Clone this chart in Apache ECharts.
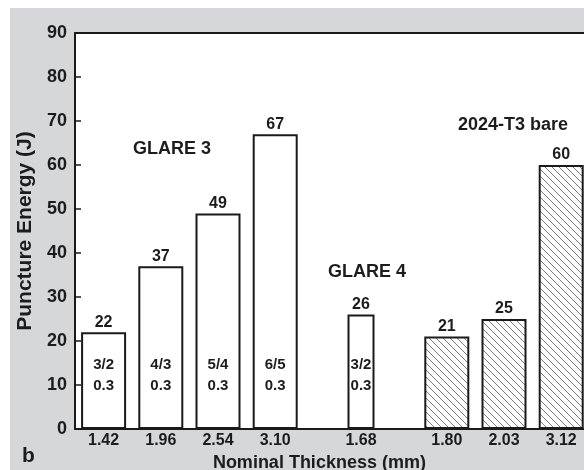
<!DOCTYPE html>
<html>
<head>
<meta charset="utf-8">
<script src="https://cdn.jsdelivr.net/npm/echarts@6/dist/echarts.min.js"></script>
<style>
  html, body { margin: 0; padding: 0; background: #fff; }
  #chart { width: 584px; height: 470px; }
</style>
</head>
<body>
<div id="chart"></div>
<script>
// Puncture energy of GLARE laminates vs. bare 2024-T3 sheet, by nominal thickness
const glare3Thickness = ['1.42', '1.96', '2.54', '3.10'];
const glare3Energy = [22, 37, 49, 67];
const glare3Layup = ['3/2', '4/3', '5/4', '6/5'];
const glare3AlLayer = ['0.3', '0.3', '0.3', '0.3'];

const glare4Thickness = ['1.68'];
const glare4Energy = [26];
const glare4Layup = ['3/2'];
const glare4AlLayer = ['0.3'];

const bareThickness = ['1.80', '2.03', '3.12'];
const bareEnergy = [21, 25, 60];

const yMin = 0, yMax = 90, yStep = 10;

// Half-width category cells: a blank cell separates bars, groups get an extra blank.
const cats = [''];
const slotG3 = [], slotG4 = [], slotBare = [];
glare3Thickness.forEach(c => { slotG3.push(cats.length); cats.push(c); cats.push(''); });
cats.push('');
glare4Thickness.forEach(c => { slotG4.push(cats.length); cats.push(c); cats.push(''); });
cats.push('');
bareThickness.forEach(c => { slotBare.push(cats.length); cats.push(c); cats.push(''); });

const empty = () => cats.map(() => '-');
const g3Data = empty(); slotG3.forEach((p, i) => g3Data[p] = glare3Energy[i]);
const g4Data = empty(); slotG4.forEach((p, i) => g4Data[p] = glare4Energy[i]);
const bareData = empty(); slotBare.forEach((p, i) => bareData[p] = bareEnergy[i]);

// Lay-up text shown inside each laminate bar
const layupText = {};
const layupData = empty();
slotG3.forEach((p, i) => { layupData[p] = glare3Energy[i]; layupText[p] = glare3Layup[i] + '\n' + glare3AlLayer[i]; });
slotG4.forEach((p, i) => { layupData[p] = glare4Energy[i]; layupText[p] = glare4Layup[i] + '\n' + glare4AlLayer[i]; });

function hatchPattern() {
  const s = 7;
  const c = document.createElement('canvas');
  c.width = s; c.height = s;
  const ctx = c.getContext('2d');
  ctx.fillStyle = '#ffffff';
  ctx.fillRect(0, 0, s, s);
  ctx.strokeStyle = '#7a7a7a';
  ctx.lineWidth = 1;
  ctx.beginPath();
  ctx.moveTo(-1, -1); ctx.lineTo(s + 1, s + 1);
  ctx.moveTo(-1, s - 1); ctx.lineTo(1, s + 1);
  ctx.moveTo(s - 1, -1); ctx.lineTo(s + 1, 1);
  ctx.stroke();
  return c;
}

const FONT = "'Liberation Sans', Arial, sans-serif";
const INK = '#1c1c1c';
const EDGE = '#1a1a1a';

const valueLabel = {
  show: true, position: 'top', distance: 2,
  fontFamily: FONT, fontWeight: 'bold', fontSize: 16, color: INK
};

const chart = echarts.init(document.getElementById('chart'), null, { renderer: 'canvas' });
chart.setOption({
  backgroundColor: '#ffffff',
  animation: false,
  graphic: [
    { type: 'rect', z: -100, shape: { x: 10, y: 8, width: 600, height: 480 }, style: { fill: '#d6d7d9' } },
    { type: 'text', left: 133, top: 140, style: { text: 'GLARE 3', font: "bold 18px 'Liberation Sans', Arial, sans-serif", fill: INK } },
    { type: 'text', left: 328, top: 263, style: { text: 'GLARE 4', font: "bold 18px 'Liberation Sans', Arial, sans-serif", fill: INK } },
    { type: 'text', left: 458, top: 116, style: { text: '2024-T3 bare', font: "bold 18px 'Liberation Sans', Arial, sans-serif", fill: INK } },
    { type: 'text', left: 22, top: 446, style: { text: 'b', font: "bold 21px 'Liberation Sans', Arial, sans-serif", fill: INK } }
  ],
  grid: {
    left: 75, top: 33, bottom: 41, right: -5.8,
    outerBoundsMode: 'none', containLabel: false,
    show: true, backgroundColor: '#ffffff', borderWidth: 0
  },
  xAxis: [
    {
      type: 'category', data: cats, boundaryGap: false, position: 'bottom',
      axisLine: { show: true, lineStyle: { color: EDGE, width: 2 } },
      axisTick: { show: false },
      axisLabel: { interval: 0, margin: 4, fontFamily: FONT, fontWeight: 'bold', fontSize: 16, color: INK },
      splitLine: { show: false },
      name: 'Nominal Thickness (mm)', nameLocation: 'middle', nameGap: 17,
      nameTextStyle: { fontFamily: FONT, fontWeight: 'bold', fontSize: 18, color: INK, padding: [0, 26, 0, 0] }
    },
    {
      type: 'category', data: cats, boundaryGap: false, position: 'top',
      axisLine: { show: true, lineStyle: { color: EDGE, width: 2 } },
      axisTick: { show: false }, axisLabel: { show: false }, splitLine: { show: false }
    }
  ],
  yAxis: {
    type: 'value', min: yMin, max: yMax, interval: yStep,
    axisLine: { show: true, lineStyle: { color: EDGE, width: 2 } },
    axisTick: { show: true, inside: true, length: 6, lineStyle: { color: EDGE, width: 1.5 } },
    axisLabel: { margin: 8, fontFamily: FONT, fontWeight: 'bold', fontSize: 18, color: INK },
    splitLine: { show: false },
    name: 'Puncture Energy (J)', nameLocation: 'middle', nameGap: 36,
    nameTextStyle: { fontFamily: FONT, fontWeight: 'bold', fontSize: 21, color: INK }
  },
  series: [
    {
      name: 'GLARE 3', type: 'bar', xAxisIndex: 0, stack: 'wide', barWidth: 45, barGap: '-100%',
      data: g3Data,
      itemStyle: { color: '#ffffff', borderColor: EDGE, borderWidth: 2 },
      label: valueLabel
    },
    {
      name: '2024-T3 bare', type: 'bar', xAxisIndex: 0, stack: 'wide', barWidth: 45, barGap: '-100%',
      data: bareData,
      itemStyle: { color: { image: hatchPattern(), repeat: 'repeat' }, borderColor: EDGE, borderWidth: 2 },
      label: valueLabel
    },
    {
      name: 'lay-up', type: 'bar', xAxisIndex: 0, stack: 'text', barWidth: 45, barGap: '-100%',
      data: layupData, silent: true, z: 5,
      itemStyle: { color: 'rgba(0,0,0,0)', borderWidth: 0 },
      label: {
        show: true, position: 'insideBottom', distance: 33,
        formatter: p => layupText[p.dataIndex] || '',
        fontFamily: FONT, fontWeight: 'bold', fontSize: 15, lineHeight: 21, color: INK
      }
    },
    {
      name: 'GLARE 4', type: 'bar', xAxisIndex: 1, barWidth: 27,
      data: g4Data,
      itemStyle: { color: '#ffffff', borderColor: EDGE, borderWidth: 2 },
      label: valueLabel
    }
  ]
});
</script>
</body>
</html>
